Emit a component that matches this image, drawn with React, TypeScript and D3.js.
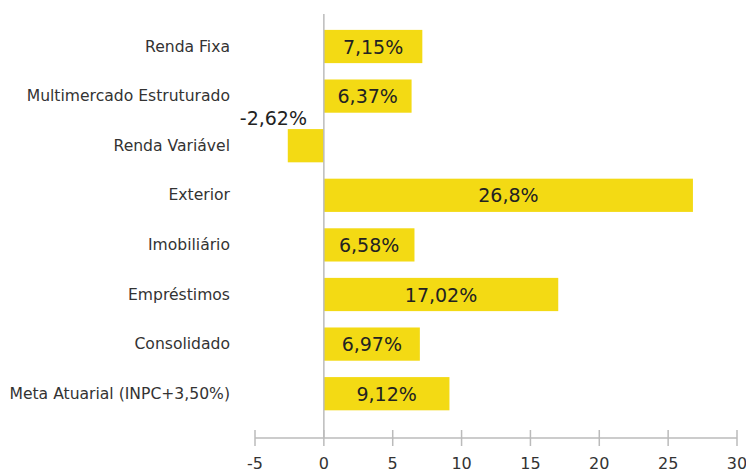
import React from "react";
import * as d3 from "d3";

const categories = [
  "Renda Fixa",
  "Multimercado Estruturado",
  "Renda Variável",
  "Exterior",
  "Imobiliário",
  "Empréstimos",
  "Consolidado",
  "Meta Atuarial (INPC+3,50%)",
];
const values = [7.15, 6.37, -2.62, 26.8, 6.58, 17.02, 6.97, 9.12];
const valueLabels = ["7,15%", "6,37%", "-2,62%", "26,8%", "6,58%", "17,02%", "6,97%", "9,12%"];
const ticks = [-5, 0, 5, 10, 15, 20, 25, 30];

const W = 746;
const H = 475;
const FONT = "'DejaVu Sans', 'Open Sans', sans-serif";

export default function App() {
  const x = d3.scaleLinear().domain([-5, 30]).range([255, 737]);
  const y = d3
    .scaleBand<string>()
    .domain(categories)
    .range([21.7, 418.5])
    .paddingInner(0.33)
    .paddingOuter(0.165);
  const axisY = 438;
  const x0 = x(0);

  return (
    <svg
      width={W}
      height={H}
      style={{ position: "absolute", left: 0, top: 0, background: "#fff" }}
      fontFamily={FONT}
    >
      {categories.map((c, i) => {
        const v = values[i];
        const by = y(c)!;
        const bh = y.bandwidth();
        const left = Math.min(x(v), x0);
        const w = Math.abs(x(v) - x0);
        const neg = v < 0;
        return (
          <g key={c}>
            <rect x={left} y={by} width={w} height={bh} fill="#f3da14" />
            <text
              x={230}
              y={by + bh / 2}
              textAnchor="end"
              dominantBaseline="central"
              fontSize={15.6}
              fill="#333"
            >
              {c}
            </text>
            {neg ? (
              <text x={307} y={by - 4} textAnchor="end" fontSize={19} fill="#222">
                {valueLabels[i]}
              </text>
            ) : (
              <text
                x={(left + left + w) / 2}
                y={by + bh / 2}
                textAnchor="middle"
                dominantBaseline="central"
                fontSize={19}
                fill="#222"
              >
                {valueLabels[i]}
              </text>
            )}
          </g>
        );
      })}
      <line x1={x0} x2={x0} y1={14} y2={axisY} stroke="#bbb" strokeWidth={1.5} />
      <line x1={x(-5)} x2={x(30)} y1={axisY} y2={axisY} stroke="#bbb" strokeWidth={1.5} />
      {ticks.map((t) => (
        <g key={t}>
          <line x1={x(t)} x2={x(t)} y1={axisY - 8} y2={axisY + 8} stroke="#bbb" strokeWidth={1.5} />
          <text x={x(t)} y={469} textAnchor="middle" fontSize={16} fill="#333">
            {t < 0 ? "-" + Math.abs(t) : String(t)}
          </text>
        </g>
      ))}
    </svg>
  );
}
